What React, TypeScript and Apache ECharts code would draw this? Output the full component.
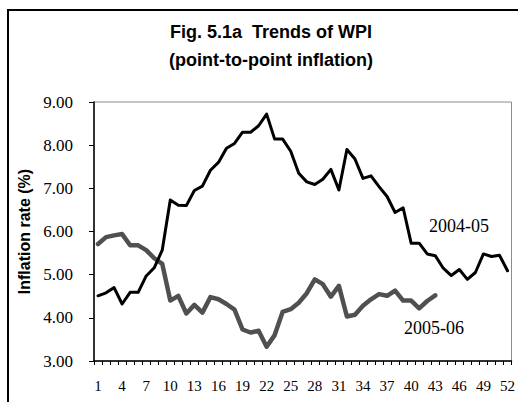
import React, { useEffect, useRef } from "react";
import * as echarts from "echarts";

const weeks: string[] = Array.from({ length: 52 }, (_, i) => String(i + 1));

const infl2004: number[] = [
  4.51, 4.58, 4.70, 4.32, 4.59, 4.59, 4.97, 5.16, 5.57, 6.73,
  6.61, 6.60, 6.95, 7.05, 7.42, 7.60, 7.93, 8.04, 8.30, 8.30,
  8.45, 8.72, 8.14, 8.14, 7.86, 7.35, 7.15, 7.09, 7.21, 7.44,
  6.96, 7.90, 7.68, 7.23, 7.29, 7.04, 6.81, 6.44, 6.55, 5.73,
  5.73, 5.48, 5.44, 5.15, 4.98, 5.12, 4.89, 5.05, 5.48, 5.42,
  5.45, 5.09,
];

const infl2005: number[] = [
  5.71, 5.87, 5.91, 5.94, 5.68, 5.68, 5.57, 5.38, 5.25, 4.40,
  4.51, 4.10, 4.30, 4.12, 4.48, 4.43, 4.32, 4.19, 3.73, 3.66,
  3.70, 3.33, 3.60, 4.14, 4.20, 4.35, 4.57, 4.89, 4.78, 4.49,
  4.74, 4.03, 4.07, 4.28, 4.43, 4.55, 4.51, 4.63, 4.40, 4.40,
  4.22, 4.39, 4.52,
];

const seriesNames: string[] = ["2004-05", "2005-06"];
const titleText = "Fig. 5.1a  Trends of WPI\n(point-to-point inflation)";
const yAxisName = "Inflation rate (%)";

const serif = "'Times New Roman', 'Liberation Serif', serif";
const sans = "Arial, 'Liberation Sans', sans-serif";

export default function App() {
  const ref = useRef<HTMLDivElement>(null);
  useEffect(() => {
    if (!ref.current) return;
    const chart = echarts.init(ref.current, null, { renderer: "svg" });
    chart.setOption({
      animation: false,
      backgroundColor: "#ffffff",
      textStyle: { fontFamily: serif },
      title: {
        text: titleText,
        left: 266,
        top: 13,
        textAlign: "center",
        textStyle: {
          fontFamily: sans,
          fontWeight: "bold",
          fontSize: 18,
          lineHeight: 28,
          color: "#000",
        },
      },
      grid: {
        left: 94,
        right: 6,
        top: 102,
        bottom: 41,
        show: true,
        borderColor: "#8c8c8c",
        borderWidth: 1,
        backgroundColor: "transparent",
      },
      xAxis: {
        type: "category",
        data: weeks,
        boundaryGap: true,
        axisLine: { lineStyle: { color: "#000", width: 1.5 } },
        axisTick: { show: true, interval: 0, length: 4, lineStyle: { color: "#000" } },
        axisLabel: {
          interval: 2,
          margin: 17,
          fontFamily: serif,
          fontSize: 15,
          color: "#000",
        },
        splitLine: { show: false },
      },
      yAxis: {
        type: "value",
        min: 3,
        max: 9,
        interval: 1,
        name: yAxisName,
        nameLocation: "middle",
        nameGap: 60,
        nameTextStyle: {
          fontFamily: sans,
          fontWeight: "bold",
          fontSize: 16,
          color: "#000",
        },
        axisLine: { show: true, lineStyle: { color: "#000", width: 1.5 } },
        axisTick: { show: true, length: 5, lineStyle: { color: "#000" } },
        axisLabel: {
          margin: 21,
          fontFamily: serif,
          fontSize: 17,
          color: "#000",
          formatter: (v: number) => v.toFixed(2),
        },
        splitLine: { show: false },
      },
      series: [
        {
          name: seriesNames[0],
          type: "line",
          data: infl2004,
          symbol: "none",
          lineStyle: { color: "#000", width: 3, join: "round", cap: "round" },
          z: 3,
        },
        {
          name: seriesNames[1],
          type: "line",
          data: infl2005,
          symbol: "none",
          lineStyle: { color: "#505050", width: 4.5, join: "round", cap: "round" },
          z: 2,
        },
      ],
      graphic: [
        {
          type: "rect",
          shape: { x: 8, y: 10, width: 700, height: 600 },
          style: { fill: "none", stroke: "#000", lineWidth: 2 },
          silent: true,
        },
        {
          type: "text",
          x: 459,
          y: 226,
          style: {
            text: seriesNames[0],
            fontFamily: serif,
            fontSize: 18,
            fill: "#000",
            align: "center",
            verticalAlign: "middle",
          },
        },
        {
          type: "text",
          x: 434,
          y: 328,
          style: {
            text: seriesNames[1],
            fontFamily: serif,
            fontSize: 18,
            fill: "#000",
            align: "center",
            verticalAlign: "middle",
          },
        },
      ],
    });
    return () => chart.dispose();
  }, []);
  return (
    <div
      ref={ref}
      style={{ position: "absolute", left: 0, top: 0, width: 518, height: 402 }}
    />
  );
}
